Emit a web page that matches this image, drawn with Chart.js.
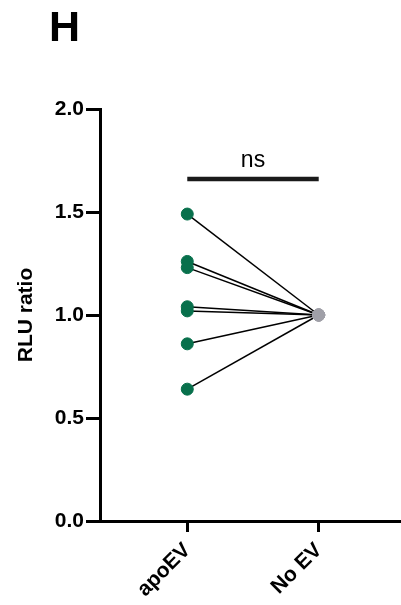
<!DOCTYPE html>
<html>
<head>
<meta charset="utf-8">
<script src="https://cdn.jsdelivr.net/npm/chart.js@4.4.0/dist/chart.umd.min.js"></script>
<style>
  body { margin: 0; background: #fff; }
  #wrap { width: 401px; height: 605px; }
</style>
</head>
<body>
<div id="wrap"><canvas id="myChart" width="401" height="605"></canvas></div>
<script>
// data
var categories = ['apoEV', 'No EV'];
var apoEV = [1.49, 1.26, 1.23, 1.04, 1.02, 0.86, 0.64];
var noEV = [1, 1, 1, 1, 1, 1, 1];
var yTicks = [0, 0.5, 1, 1.5, 2];
var panelLabel = 'H';
var sigText = 'ns';
var sigY = 1.66;

var FONT = "'Liberation Sans', Arial, sans-serif";
var green = 'rgb(8, 112, 76)';
var grey = 'rgb(160, 160, 168)';

var datasets = [];

// one black line per pair
for (var i = 0; i < apoEV.length; i++) {
    datasets.push({
        type: 'line',
        data: [{x: 0, y: apoEV[i]}, {x: 1, y: noEV[i]}],
        borderColor: '#000',
        borderWidth: 1.5,
        pointRadius: 0,
        fill: false,
        order: 3
    });
}

// significance bar
datasets.push({
    type: 'line',
    data: [{x: 0, y: sigY}, {x: 1, y: sigY}],
    borderColor: '#1a1a1a',
    borderWidth: 4.5,
    borderCapStyle: 'butt',
    pointRadius: 0,
    order: 3
});

// dots
datasets.push({
    type: 'scatter',
    data: apoEV.map(function (v) { return {x: 0, y: v}; }),
    backgroundColor: green,
    borderColor: green,
    pointRadius: 6,
    order: 1
});
datasets.push({
    type: 'scatter',
    data: noEV.map(function (v) { return {x: 1, y: v}; }),
    backgroundColor: grey,
    borderColor: grey,
    pointRadius: 6,
    order: 1
});

var textPlugin = {
    id: 'extraText',
    afterDraw: function (chart) {
        var ctx = chart.ctx;
        var xs = chart.scales.x, ys = chart.scales.y;
        ctx.save();
        ctx.fillStyle = '#000';
        ctx.textAlign = 'left';
        ctx.textBaseline = 'alphabetic';
        ctx.font = 'bold 43px ' + FONT;
        ctx.fillText(panelLabel, 49, 41);

        ctx.textAlign = 'center';
        ctx.font = '23px ' + FONT;
        var mid = (xs.getPixelForValue(0) + xs.getPixelForValue(1)) / 2;
        ctx.fillText(sigText, mid, ys.getPixelForValue(sigY) - 12);
        ctx.restore();
    }
};

var ctx = document.getElementById('myChart').getContext('2d');
var chart = new Chart(ctx, {
    type: 'scatter',
    data: { datasets: datasets },
    plugins: [textPlugin],
    options: {
        responsive: false,
        animation: false,
        clip: false,
        layout: { autoPadding: false, padding: { top: 109, right: 0, left: 0, bottom: 0 } },
        plugins: {
            legend: { display: false },
            tooltip: { enabled: false }
        },
        scales: {
            x: {
                type: 'linear',
                min: -0.664,
                max: 1.626,
                afterBuildTicks: function (scale) {
                    scale.ticks = categories.map(function (c, i) { return {value: i}; });
                },
                afterFit: function (scale) {
                    scale.height = 84;
                    scale.paddingLeft = 0;
                    scale.paddingRight = 0;
                },
                border: { color: '#000', width: 3 },
                grid: { drawOnChartArea: false, drawTicks: true, tickLength: 11, color: '#000', lineWidth: 3 },
                ticks: {
                    color: '#000',
                    minRotation: 45,
                    maxRotation: 45,
                    padding: 6,
                    font: { family: FONT, size: 21, weight: 'bold' },
                    callback: function (v) { return categories[v]; }
                }
            },
            y: {
                min: 0,
                max: 2,
                afterBuildTicks: function (scale) {
                    scale.ticks = yTicks.map(function (v) { return {value: v}; });
                },
                afterFit: function (scale) { scale.width = 100; },
                border: { color: '#000', width: 3 },
                grid: { drawOnChartArea: false, drawTicks: true, tickLength: 14, color: '#000', lineWidth: 3 },
                title: {
                    display: true,
                    text: 'RLU ratio',
                    color: '#000',
                    padding: { top: 14, bottom: 0 },
                    font: { family: FONT, size: 21, weight: 'bold' }
                },
                ticks: {
                    color: '#000',
                    padding: 2,
                    font: { family: FONT, size: 21, weight: 'bold' },
                    callback: function (v) { return Number(v).toFixed(1); }
                }
            }
        }
    }
});
</script>
</body>
</html>
